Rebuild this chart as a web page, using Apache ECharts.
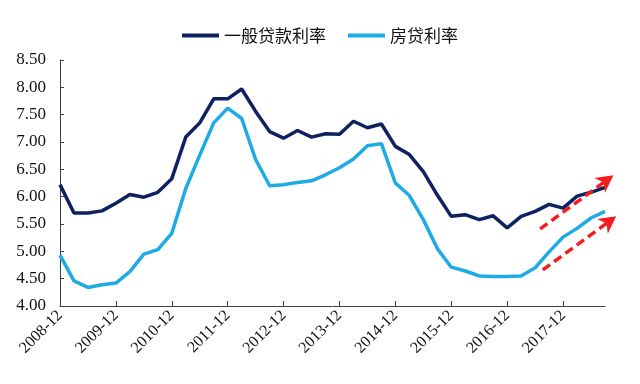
<!DOCTYPE html>
<html>
<head>
<meta charset="utf-8">
<script src="https://cdn.jsdelivr.net/npm/echarts@6/dist/echarts.min.js"></script>
<style>html,body{margin:0;padding:0;background:#fff}#c{width:640px;height:384px}</style>
</head>
<body>
<div id="c"></div>
<script>
var categories = ['2008-12','2009-03','2009-06','2009-09','2009-12','2010-03','2010-06','2010-09','2010-12','2011-03','2011-06','2011-09','2011-12','2012-03','2012-06','2012-09','2012-12','2013-03','2013-06','2013-09','2013-12','2014-03','2014-06','2014-09','2014-12','2015-03','2015-06','2015-09','2015-12','2016-03','2016-06','2016-09','2016-12','2017-03','2017-06','2017-09','2017-12','2018-03','2018-06','2018-09'];
var seriesNames = ['一般贷款利率', '房贷利率'];
var generalLoanRate = [6.22,5.70,5.70,5.74,5.88,6.04,5.99,6.08,6.33,7.09,7.35,7.79,7.79,7.97,7.56,7.19,7.07,7.21,7.09,7.15,7.14,7.38,7.26,7.33,6.92,6.77,6.46,6.03,5.64,5.67,5.58,5.65,5.43,5.64,5.73,5.86,5.79,6.01,6.08,6.17];
var mortgageRate = [4.93,4.46,4.34,4.39,4.42,4.63,4.95,5.03,5.33,6.15,6.76,7.35,7.62,7.43,6.68,6.20,6.22,6.26,6.29,6.40,6.53,6.69,6.93,6.97,6.25,6.02,5.58,5.05,4.71,4.64,4.55,4.54,4.54,4.55,4.70,4.99,5.26,5.42,5.61,5.73];
var yTicks = [4.00,4.50,5.00,5.50,6.00,6.50,7.00,7.50,8.00,8.50];
// annotation arrows in data units: [categoryIndex, value] start -> tip
var arrowUpper = [[34.36, 5.41], [39.60, 6.39]];
var arrowLower = [[34.55, 4.66], [39.80, 5.64]];

var chart = echarts.init(document.getElementById('c'), null, {renderer: 'canvas'});
var serif = '"Liberation Serif","Times New Roman",serif';
var axisColor = '#404040';
var option = {
  animation: false,
  backgroundColor: '#fff',
  grid: {left: 60, right: 35, top: 60, bottom: 78, containLabel: false},
  legend: {
    top: 22, left: 'center',
    icon: 'rect', itemWidth: 37, itemHeight: 4, itemGap: 22,
    textStyle: {fontFamily: '"Noto Sans CJK SC", sans-serif', fontSize: 17, color: '#111'},
    data: seriesNames
  },
  xAxis: {
    type: 'category', data: categories, boundaryGap: false,
    axisLine: {lineStyle: {color: axisColor, width: 1}},
    axisTick: {inside: true, length: 5, interval: 3, lineStyle: {color: axisColor}},
    axisLabel: {interval: 3, rotate: 45, fontFamily: serif, fontSize: 16, color: '#111', margin: 7},
    splitLine: {show: false}
  },
  yAxis: {
    type: 'value', min: yTicks[0], max: yTicks[yTicks.length - 1], interval: 0.5,
    axisLine: {show: true, lineStyle: {color: axisColor, width: 1}},
    axisTick: {show: true, inside: true, length: 4, lineStyle: {color: axisColor}},
    axisLabel: {fontFamily: serif, fontSize: 17, color: '#111', margin: 14,
      formatter: function (v) { return v.toFixed(2); }},
    splitLine: {show: false}
  },
  series: [
    {name: seriesNames[0], type: 'line', data: generalLoanRate, symbol: 'none',
     lineStyle: {color: '#0E2160', width: 3.5}, itemStyle: {color: '#0E2160'}},
    {name: seriesNames[1], type: 'line', data: mortgageRate, symbol: 'none',
     lineStyle: {color: '#1EAAE6', width: 3.5}, itemStyle: {color: '#1EAAE6'}}
  ]
};
chart.setOption(option);

function arrowGraphic(arr) {
  var p0 = chart.convertToPixel({gridIndex: 0}, [0, 4]);
  var p1 = chart.convertToPixel({gridIndex: 0}, [1, 5]);
  var dx = p1[0] - p0[0], dy = p1[1] - p0[1];
  function px(pt) { return [p0[0] + pt[0] * dx, p0[1] + (pt[1] - 4) * dy]; }
  var s = px(arr[0]), t = px(arr[1]);
  var vx = t[0] - s[0], vy = t[1] - s[1];
  var len = Math.sqrt(vx * vx + vy * vy);
  var ux = vx / len, uy = vy / len;
  var headLen = 17, headHalf = 9;
  var base = [t[0] - ux * headLen, t[1] - uy * headLen];
  var notch = [t[0] - ux * (headLen - 5), t[1] - uy * (headLen - 5)];
  var color = '#F41C1C';
  return [
    {type: 'polyline', silent: true, z: 100,
     shape: {points: [s, notch]},
     style: {stroke: color, lineWidth: 3.5, lineDash: [9, 5], fill: null}},
    {type: 'polygon', silent: true, z: 101,
     shape: {points: [t,
       [base[0] - uy * headHalf, base[1] + ux * headHalf],
       notch,
       [base[0] + uy * headHalf, base[1] - ux * headHalf]]},
     style: {fill: color, stroke: null}}
  ];
}
chart.setOption({graphic: arrowGraphic(arrowUpper).concat(arrowGraphic(arrowLower))});
</script>
</body>
</html>
